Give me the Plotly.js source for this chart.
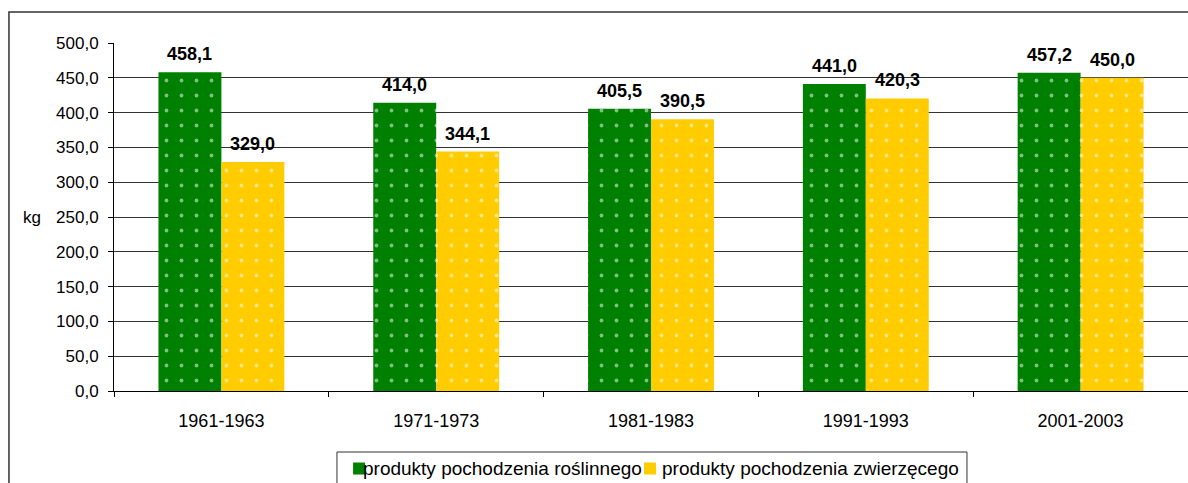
<!DOCTYPE html>
<html>
<head>
<meta charset="utf-8">
<script src="https://cdn.plot.ly/plotly-3.0.1.min.js"></script>
<style>html,body{margin:0;padding:0;background:#fff;}#chart{width:1188px;height:483px;}</style>
</head>
<body>
<div id="chart"></div>
<script>
var categories = ["1961-1963", "1971-1973", "1981-1983", "1991-1993", "2001-2003"];
var plantValues = [458.1, 414.0, 405.5, 441.0, 457.2];
var animalValues = [329.0, 344.1, 390.5, 420.3, 450.0];
var seriesNames = ["produkty pochodzenia roślinnego", "produkty pochodzenia zwierzęcego"];
var seriesColors = ['#008000', '#FFCC00'];
var yTicks = [0, 50, 100, 150, 200, 250, 300, 350, 400, 450, 500];

var FONT = 'Arial, Liberation Sans, sans-serif';
function fmt(v){ return v.toFixed(1).replace('.', ','); }

function bar(name, vals, color){
  return {
    type: 'bar', name: name, x: categories, y: vals,
    marker: {color: color, line: {width: 0},
      pattern: {shape: '.', fgcolor: '#ffffff', bgcolor: color, size: 15, solidity: 0.05, fillmode: 'overlay'}},
    hoverinfo: 'none', showlegend: false
  };
}

var data = [bar(seriesNames[0], plantValues, seriesColors[0]), bar(seriesNames[1], animalValues, seriesColors[1])];

// value labels via annotations at bar tops (grouped offsets in category units)
var annotations = [];
var barOffset = 0.1465;
[plantValues, animalValues].forEach(function(vals, s){
  vals.forEach(function(v, i){
    annotations.push({xref: 'x', yref: 'y', x: i + (s === 0 ? -barOffset : barOffset), y: v,
      text: fmt(v), showarrow: false, yanchor: 'middle', yshift: 18,
      font: {family: FONT, size: 18, color: '#000', weight: 'bold'}});
  });
});
annotations.push({text: 'kg', xref: 'paper', yref: 'y', x: -0.0661, y: 250, xanchor: 'right', yanchor: 'middle',
  showarrow: false, font: {family: FONT, size: 17}});
// legend texts
annotations.push({text: seriesNames[0], xref: 'paper', yref: 'paper', x: 0.2300, y: -0.2227, xanchor: 'left', yanchor: 'middle',
  showarrow: false, font: {family: FONT, size: 19}});
annotations.push({text: seriesNames[1], xref: 'paper', yref: 'paper', x: 0.5084, y: -0.2227, xanchor: 'left', yanchor: 'middle',
  showarrow: false, font: {family: FONT, size: 19}});

var shapes = [
  {type: 'rect', xref: 'paper', yref: 'paper', x0: -0.0978, x1: 1.2, y0: -0.6, y1: 1.0891,
    line: {color: '#333', width: 1.5}, fillcolor: 'rgba(0,0,0,0)', layer: 'below'},
  {type: 'rect', xref: 'paper', yref: 'paper', x0: 0.2076, x1: 0.7942, y0: -0.35, y1: -0.1753,
    line: {color: '#333', width: 1}, fillcolor: 'rgba(0,0,0,0)'},
  {type: 'rect', xref: 'paper', yref: 'paper', x0: 0.2226, x1: 0.2337, y0: -0.2400, y1: -0.2055,
    line: {width: 0}, fillcolor: seriesColors[0]},
  {type: 'rect', xref: 'paper', yref: 'paper', x0: 0.4935, x1: 0.5047, y0: -0.2400, y1: -0.2055,
    line: {width: 0}, fillcolor: seriesColors[1]}
];

var layout = {
  width: 1188, height: 483,
  margin: {l: 114, r: 0, t: 43, b: 92},
  paper_bgcolor: '#fff', plot_bgcolor: '#fff',
  font: {family: FONT, size: 17, color: '#000'},
  barmode: 'group', bargap: 0.414, bargroupgap: 0,
  showlegend: false,
  xaxis: {type: 'category', showline: true, linecolor: '#000', linewidth: 1,
    ticks: 'outside', tickson: 'boundaries', ticklen: 5, tickcolor: '#000',
    showgrid: false, zeroline: false, tickfont: {family: FONT, size: 18}, ticklabelstandoff: 13},
  yaxis: {range: [0, 500], tickvals: yTicks, ticktext: yTicks.map(fmt),
    showline: true, linecolor: '#000', linewidth: 1, ticks: 'outside', ticklen: 5, tickcolor: '#000',
    showgrid: true, gridcolor: '#333', gridwidth: 1, zeroline: false, tickfont: {family: FONT, size: 17},
    ticklabelstandoff: 6},
  annotations: annotations,
  shapes: shapes
};

Plotly.newPlot('chart', data, layout, {displayModeBar: false, staticPlot: true});
</script>
</body>
</html>
